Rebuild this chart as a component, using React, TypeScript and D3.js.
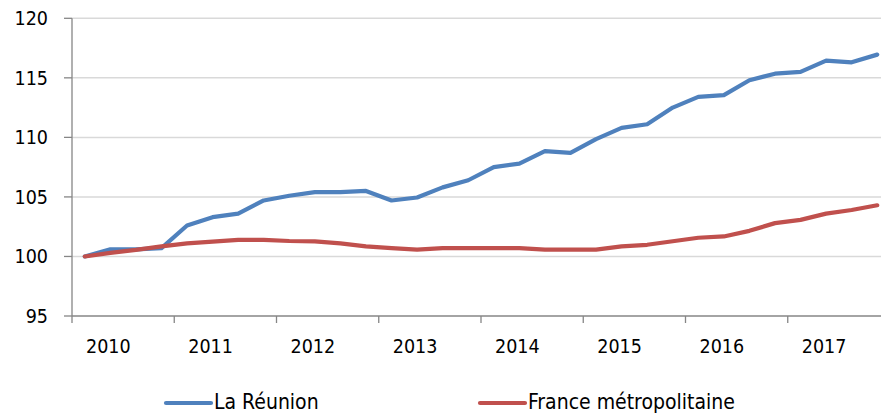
import React, { useEffect, useRef } from 'react'
import * as d3 from 'd3'

const years = [2010, 2011, 2012, 2013, 2014, 2015, 2016, 2017]
const quarters = years.flatMap(y => [1, 2, 3, 4].map(q => `${y}T${q}`))

const reunion = [
  100, 100.6, 100.6, 100.7, 102.6, 103.3, 103.6, 104.7,
  105.1, 105.4, 105.4, 105.5, 104.7, 104.95, 105.8, 106.4,
  107.5, 107.8, 108.85, 108.7, 109.85, 110.8, 111.1, 112.5,
  113.4, 113.55, 114.8, 115.35, 115.5, 116.45, 116.3, 116.95,
]
const france = [
  100, 100.3, 100.55, 100.85, 101.1, 101.25, 101.4, 101.4,
  101.3, 101.27, 101.1, 100.85, 100.7, 100.57, 100.7, 100.7,
  100.7, 100.7, 100.57, 100.57, 100.57, 100.84, 100.98, 101.28,
  101.57, 101.68, 102.15, 102.8, 103.07, 103.6, 103.9, 104.3,
]
const yTicks = [95, 100, 105, 110, 115, 120]

const seriesList = [
  { name: 'La Réunion', values: reunion, color: '#4f81bd' },
  { name: 'France métropolitaine', values: france, color: '#c0504d' },
]

const W = 881
const H = 415
const FONT = '"DejaVu Sans Condensed", "DejaVu Sans", sans-serif'

export default function App() {
  const svgRef = useRef<SVGSVGElement>(null)

  useEffect(() => {
    if (!svgRef.current) return
    const svg = d3.select(svgRef.current)
    svg.selectAll('*').remove()

    const left = 72
    const right = 890
    const top = 18.3
    const bottom = 316

    const x = d3.scalePoint<string>().domain(quarters).range([left, right]).padding(0.5)
    const step = x.step()
    const y = d3.scaleLinear().domain([95, 120]).range([bottom, top])

    // horizontal grid
    svg.append('g')
      .selectAll('line')
      .data(yTicks.filter(t => t !== 95))
      .join('line')
      .attr('x1', left)
      .attr('x2', W)
      .attr('y1', d => y(d))
      .attr('y2', d => y(d))
      .attr('stroke', '#d9d9d9')
      .attr('stroke-width', 1.5)

    // y axis
    svg.append('line')
      .attr('x1', left).attr('x2', left)
      .attr('y1', top).attr('y2', bottom)
      .attr('stroke', '#868686').attr('stroke-width', 1.3)
    svg.append('g')
      .selectAll('line')
      .data(yTicks)
      .join('line')
      .attr('x1', left - 8).attr('x2', left)
      .attr('y1', d => y(d)).attr('y2', d => y(d))
      .attr('stroke', '#868686').attr('stroke-width', 1.3)
    svg.append('g')
      .selectAll('text')
      .data(yTicks)
      .join('text')
      .attr('x', 48)
      .attr('y', d => y(d))
      .attr('dy', '0.36em')
      .attr('text-anchor', 'end')
      .style('font-family', FONT)
      .style('font-size', '19.5px')
      .attr('fill', '#000')
      .text(d => d)

    // x axis
    svg.append('line')
      .attr('x1', left).attr('x2', W)
      .attr('y1', bottom).attr('y2', bottom)
      .attr('stroke', '#868686').attr('stroke-width', 1.3)
    svg.append('g')
      .selectAll('line')
      .data(years)
      .join('line')
      .attr('x1', (_, i) => left + i * 4 * step)
      .attr('x2', (_, i) => left + i * 4 * step)
      .attr('y1', bottom).attr('y2', bottom + 7)
      .attr('stroke', '#868686').attr('stroke-width', 1.3)
    svg.append('g')
      .selectAll('text')
      .data(years)
      .join('text')
      .attr('x', d => (x(`${d}T2`) ?? 0) - 2)
      .attr('y', 346)
      .attr('dy', '0.36em')
      .attr('text-anchor', 'middle')
      .style('font-family', FONT)
      .style('font-size', '19.5px')
      .attr('fill', '#000')
      .text(d => d)

    // series
    const line = d3.line<number>()
      .x((_, i) => x(quarters[i]) ?? 0)
      .y(d => y(d))

    seriesList.forEach(s => {
      svg.append('path')
        .datum(s.values)
        .attr('d', line)
        .attr('fill', 'none')
        .attr('stroke', s.color)
        .attr('stroke-width', 4.2)
        .attr('stroke-linejoin', 'round')
        .attr('stroke-linecap', 'round')
    })

    // legend
    const legendPos = [166, 480]
    seriesList.forEach((s, i) => {
      const g = svg.append('g').attr('transform', `translate(${legendPos[i]},402)`)
      g.append('line')
        .attr('x1', 0).attr('x2', 45)
        .attr('y1', 1).attr('y2', 1)
        .attr('stroke', s.color)
        .attr('stroke-width', 4.2)
        .attr('stroke-linecap', 'round')
      g.append('text')
        .attr('x', 48)
        .attr('y', 0)
        .attr('dy', '0.33em')
        .style('font-family', FONT)
        .style('font-size', '21px')
        .attr('fill', '#000')
        .text(s.name)
    })
  }, [])

  return (
    <svg
      ref={svgRef}
      width={W}
      height={H}
      style={{ position: 'absolute', left: 0, top: 0, background: '#fff' }}
    />
  )
}
